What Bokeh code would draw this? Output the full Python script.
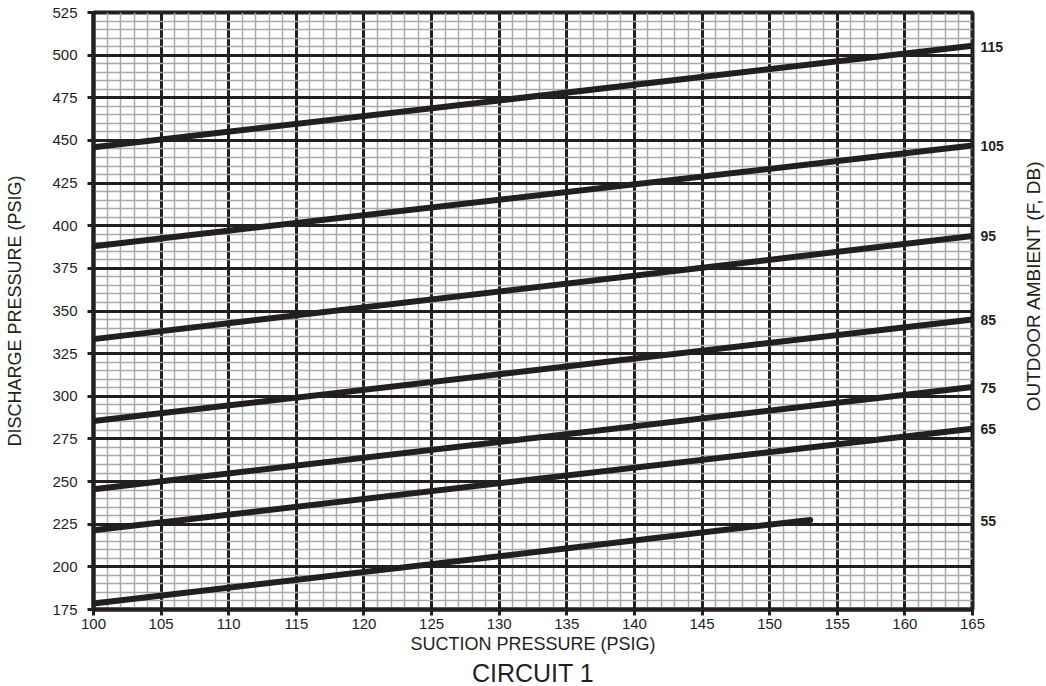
import math
from bokeh.plotting import figure
from bokeh.layouts import row
from bokeh.models import SingleIntervalTicker, FixedTicker, LinearAxis, Title, Range1d
from bokeh.core.properties import value
from bokeh.embed import file_html
from bokeh.resources import INLINE

# Data (suction pressure -> discharge pressure per outdoor ambient)
ambient_labels = ["115", "105", "95", "85", "75", "65", "55"]
x_115 = [100, 165]; y_115 = [446, 505.5]
x_105 = [100, 165]; y_105 = [388, 447]
x_95 = [100, 165]; y_95 = [333.5, 394]
x_85 = [100, 165]; y_85 = [285.5, 345]
x_75 = [100, 165]; y_75 = [245.5, 305.5]
x_65 = [100, 165]; y_65 = [221.5, 281]
x_55 = [100, 153]; y_55 = [178.5, 227.5]
label_ticks = [505, 447, 394, 345, 305, 281, 227]

series_x = [x_115, x_105, x_95, x_85, x_75, x_65, x_55]
series_y = [y_115, y_105, y_95, y_85, y_75, y_65, y_55]

INK = "#231f20"
FONT = "Liberation Sans"

p = figure(width=1006, height=686, output_backend="svg", toolbar_location=None,
           x_range=Range1d(100, 165), y_range=Range1d(175, 525),
           min_border_left=93, min_border_right=31, min_border_top=12, min_border_bottom=60,
           background_fill_color="white", border_fill_color="white")

p.outline_line_color = INK
p.outline_line_width = 4

xt = SingleIntervalTicker(interval=5, num_minor_ticks=5)
yt = SingleIntervalTicker(interval=25, num_minor_ticks=5)
p.xaxis.ticker = xt
p.yaxis.ticker = yt
p.xgrid.ticker = xt
p.ygrid.ticker = yt

for g in (p.xgrid[0], p.ygrid[0]):
    g.grid_line_color = INK
    g.grid_line_width = 3
    g.minor_grid_line_color = "#a7a9ac"
    g.minor_grid_line_width = 1.5

for ax in (p.xaxis[0], p.yaxis[0]):
    ax.axis_line_color = INK
    ax.axis_line_width = 4
    ax.major_tick_line_color = INK
    ax.major_tick_line_width = 3
    ax.major_tick_out = 6
    ax.major_tick_in = 0
    ax.minor_tick_line_color = None
    ax.major_label_text_font = FONT
    ax.major_label_text_font_size = "15px"
    ax.major_label_text_color = INK
    ax.axis_label_text_font = FONT
    ax.axis_label_text_font_size = "18px"
    ax.axis_label_text_font_style = "normal"
    ax.axis_label_text_color = INK

p.xaxis.axis_label = "SUCTION PRESSURE (PSIG)"
p.yaxis.axis_label = "DISCHARGE PRESSURE (PSIG)"
p.xaxis.major_label_standoff = 3
p.xaxis.axis_label_standoff = 2
p.yaxis.major_label_standoff = 10
p.yaxis.axis_label_standoff = 24

# right side: curve labels (outdoor ambient temperatures)
right = LinearAxis(ticker=FixedTicker(ticks=label_ticks),
                   major_label_overrides={t: l for t, l in zip(label_ticks, ambient_labels)})
right.axis_line_color = None
right.major_tick_line_color = None
right.minor_tick_line_color = None
right.major_tick_out = 0
right.major_tick_in = 0
right.major_label_standoff = 8
right.major_label_text_font = FONT
right.major_label_text_font_style = "bold"
right.major_label_text_font_size = "14px"
right.major_label_text_color = INK
p.add_layout(right, "right")

for xs, ys in zip(series_x, series_y):
    p.line(xs, ys, line_color=INK, line_width=6, line_cap="round")

title = Title(text="CIRCUIT 1", align="center", text_font=FONT, text_font_size="25px",
              text_font_style="normal", text_color=INK, standoff=0)
p.add_layout(title, "below")

# narrow side panel carrying the right-hand axis title, read bottom-to-top
side = figure(width=40, height=686, output_backend="svg", toolbar_location=None,
              x_range=Range1d(0, 40), y_range=Range1d(0, 686),
              x_axis_type=None, y_axis_type=None,
              min_border_left=0, min_border_right=0, min_border_top=0, min_border_bottom=0,
              background_fill_color="white", border_fill_color="white")
side.outline_line_color = None
side.grid.visible = False
side.text(x=[27], y=[372], text=["OUTDOOR AMBIENT (F, DB)"], angle=math.pi / 2,
          text_align="center", text_baseline="middle", text_font=value(FONT),
          text_font_size="19px", text_color=INK)

layout = row(p, side, spacing=0)
open("out.html", "w").write(file_html(layout, INLINE))
